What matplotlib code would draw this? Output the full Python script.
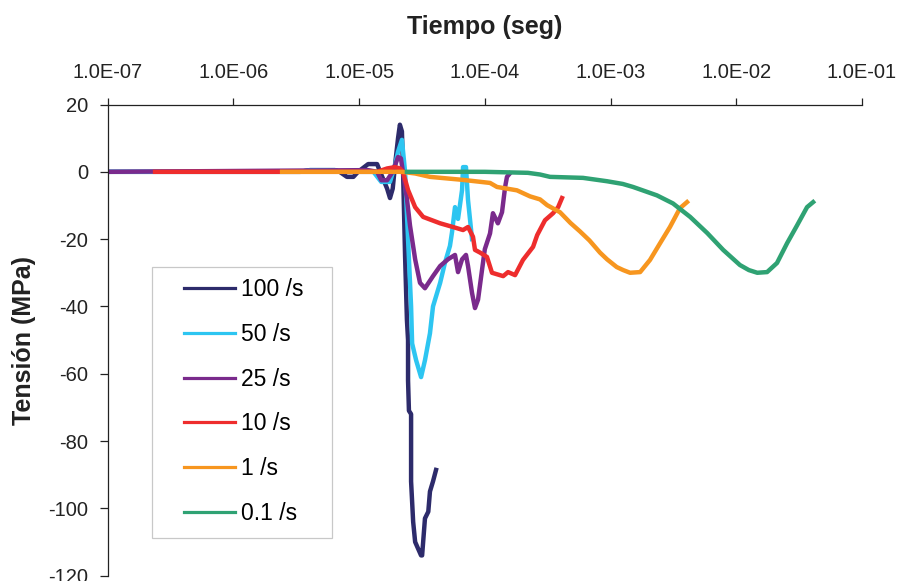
import matplotlib
matplotlib.use("Agg")
import matplotlib.pyplot as plt
from matplotlib.patches import Rectangle
from matplotlib.ticker import FixedLocator, FuncFormatter, NullLocator

plt.rcParams["font.family"] = ["Liberation Sans", "DejaVu Sans"]
plt.rcParams["axes.unicode_minus"] = False

# tiempo (s) y tension (MPa) para cada velocidad de deformacion
t_100 = [1e-7, 3.39e-6, 4.06e-6, 6.43e-6, 7.0e-6, 8.0e-6, 9.0e-6, 9.8e-6, 1.18e-5, 1.39e-5,
         1.47e-5, 1.67e-5, 1.76e-5, 1.85e-5, 1.93e-5, 2.04e-5, 2.11e-5, 2.19e-5, 2.23e-5,
         2.32e-5, 2.40e-5, 2.45e-5, 2.45e-5, 2.49e-5, 2.59e-5, 2.59e-5, 2.69e-5, 2.79e-5,
         3.11e-5, 3.17e-5, 3.34e-5, 3.55e-5, 3.66e-5, 3.87e-5, 4.09e-5]
s_100 = [0, 0, 0.5, 0.5, 0, -1.5, -1.5, 0, 2.3, 2.3,
         0, -5, -7.8, -5, 2, 10, 14, 12, 2,
         -25, -44, -50, -62, -71, -72, -92, -104, -110,
         -114, -114, -103, -101, -95, -92, -88.6]

t_50 = [1e-7, 3.39e-6, 4.06e-6, 6.43e-6, 7.0e-6, 1.3e-5, 1.5e-5, 1.76e-5, 1.93e-5, 2.04e-5,
        2.19e-5, 2.32e-5, 2.45e-5, 2.59e-5, 2.64e-5, 2.84e-5, 3.11e-5, 3.34e-5, 3.66e-5,
        3.87e-5, 4.41e-5, 4.82e-5, 5.28e-5, 5.48e-5, 5.79e-5, 6.12e-5, 6.59e-5, 6.71e-5,
        7.08e-5, 7.35e-5, 7.91e-5]
s_50 = [0, 0, 0.5, 0.5, 0, 0, -3, -3, 2, 6,
        9.5, 0, -20, -40, -51, -56, -61, -56, -48,
        -40, -33, -27, -22, -18, -10.5, -14, -5.4, 1.4,
        1.4, -8.4, -20]

t_25 = [1e-7, 1.18e-5, 1.39e-5, 1.5e-5, 1.67e-5, 1.85e-5, 2.04e-5, 2.15e-5, 2.23e-5, 2.40e-5,
        2.54e-5, 2.79e-5, 3.05e-5, 3.34e-5, 3.87e-5, 4.41e-5, 5.09e-5, 5.79e-5, 6.12e-5,
        6.59e-5, 7.08e-5, 7.35e-5, 7.91e-5, 8.35e-5, 8.83e-5, 9.51e-5, 1.00e-4, 1.10e-4,
        1.16e-4, 1.27e-4, 1.37e-4, 1.45e-4, 1.50e-4, 1.58e-4]
s_25 = [0, 0.5, 0, -2.5, -2.5, 0, 4.4, 4, 0, -8,
        -16, -26, -33, -34.6, -31, -28, -26, -24.7, -29.8,
        -26, -24.7, -28, -36, -40.5, -38, -29, -23, -18.3,
        -12.3, -15.3, -12, -4.5, -1.5, -0.5]

t_10 = [2.38e-7, 1.39e-5, 1.67e-5, 1.93e-5, 2.11e-5, 2.23e-5, 2.45e-5, 2.79e-5, 3.23e-5,
        4.41e-5, 5.58e-5, 6.71e-5, 7.35e-5, 8.05e-5, 8.35e-5, 9.16e-5, 1.04e-4, 1.14e-4,
        1.40e-4, 1.53e-4, 1.74e-4, 2.01e-4, 2.42e-4, 2.61e-4, 3.01e-4, 3.49e-4, 3.83e-4,
        4.11e-4]
s_10 = [0, 0, 1, 1.4, 1, 0, -5.4, -10.5, -13.4,
        -15.3, -16.4, -17.3, -16.4, -19.3, -23.2, -24, -25.3, -30,
        -31, -29.8, -30.7, -26.2, -22.3, -18.8, -14.4, -12.3, -10.5,
        -7.8]

t_1 = [2.44e-6, 2.2e-5, 2.8e-5, 3.66e-5, 6.71e-5, 1.10e-4, 1.25e-4, 1.8e-4, 2.29e-4,
       2.75e-4, 3.13e-4, 3.96e-4, 4.8e-4, 5.71e-4, 6.8e-4, 8.24e-4, 9.38e-4, 1.12e-3,
       1.26e-3, 1.43e-3, 1.72e-3, 2.06e-3, 2.48e-3, 2.97e-3, 3.57e-3, 4.06e-3]
s_1 = [0, 0, -0.5, -1.5, -2.4, -3.3, -4.5, -5.5, -7.3,
       -8.2, -9.9, -12, -15.2, -17.7, -20.4, -24, -26, -28.3,
       -29.2, -30, -29.8, -26.2, -21.2, -16.4, -10.8, -9]

t_01 = [2.4e-5, 1.0e-4, 2.2e-4, 2.75e-4, 3.3e-4, 6.04e-4, 9.38e-4, 1.25e-3, 1.51e-3,
        1.8e-3, 2.34e-3, 3.14e-3, 4.30e-3, 5.88e-3, 7.87e-3, 1.07e-2, 1.26e-2, 1.47e-2,
        1.76e-2, 2.11e-2, 2.54e-2, 3.05e-2, 3.66e-2, 4.09e-2]
s_01 = [0, 0, -0.3, -0.8, -1.5, -1.8, -2.8, -3.6, -4.5,
        -5.5, -7, -9.4, -13.4, -18.2, -23.2, -27.7, -29.2, -30,
        -29.8, -27.1, -21.2, -15.9, -10.5, -9]

labels = ["100 /s", "50 /s", "25 /s", "10 /s", "1 /s", "0.1 /s"]
colors = ["#2d2b6b", "#2dc5f1", "#7a2a8c", "#ee2d2d", "#f7961f", "#2fa273"]
series = [(t_100, s_100), (t_50, s_50), (t_25, s_25), (t_10, s_10), (t_1, s_1), (t_01, s_01)]

x_ticks = [1e-7, 1e-6, 1e-5, 1e-4, 1e-3, 1e-2, 1e-1]
y_ticks = [-120, -100, -80, -60, -40, -20, 0, 20]

fig = plt.figure(figsize=(9, 5.81), dpi=100)
ax = fig.add_axes([0.1197, 0.0093, 0.838, 0.8108])

for (t, s), c, lab in zip(series, colors, labels):
    ax.plot(t, s, color=c, lw=3.2, label=lab, solid_joinstyle="round")

ax.set_xscale("log")
ax.set_xlim(1e-7, 1e-1)
ax.set_ylim(-120, 20)

ax.xaxis.set_major_locator(FixedLocator(x_ticks))
ax.xaxis.set_minor_locator(NullLocator())
ax.xaxis.set_major_formatter(FuncFormatter(lambda v, p: f"{v:.1E}"))
ax.set_yticks(y_ticks)
ax.set_yticklabels([str(v) for v in y_ticks])

ax.xaxis.tick_top()
ax.xaxis.set_label_position("top")
ax.tick_params(axis="x", which="major", direction="out", length=5, width=0.9,
               labelsize=14.5, pad=11, colors="#222222")
ax.tick_params(axis="y", direction="out", length=6, width=0.9,
               labelsize=14.5, pad=8, colors="#222222")

for side in ["bottom", "right"]:
    ax.spines[side].set_visible(False)
for side in ["top", "left"]:
    ax.spines[side].set_linewidth(0.9)
    ax.spines[side].set_color("#222222")

ax.set_xlabel("Tiempo (seg)", fontsize=18, fontweight="bold", labelpad=21, color="#222222")
ax.set_ylabel("Tensión (MPa)", fontsize=18, fontweight="bold", labelpad=8.5, color="#222222")

# recuadro de la leyenda dibujado aparte
ax.add_patch(Rectangle((0.0587, 0.0798), 0.2387, 0.575, transform=ax.transAxes,
                       facecolor="white", edgecolor="#c8c8c8", lw=0.9, zorder=5))
leg = ax.legend(loc="center left", bbox_to_anchor=(0.1016, 0.3696), frameon=False,
                fontsize=16.5, borderpad=0, handlelength=2.2, handletextpad=0.25,
                labelspacing=0.95, borderaxespad=0)
leg.set_zorder(6)
for line in leg.get_lines():
    line.set_linewidth(2.3)

fig.savefig("out.png", dpi=100)
